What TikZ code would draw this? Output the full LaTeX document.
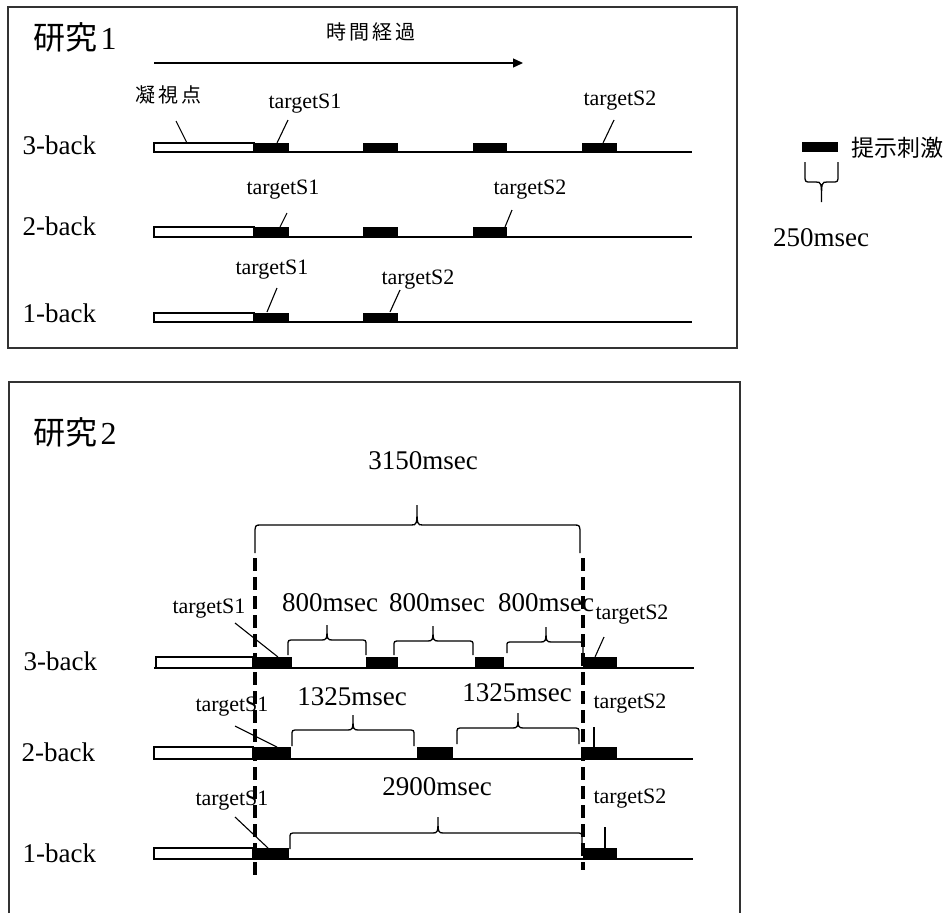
\documentclass[tikz,border=0pt]{standalone}
\usepackage{fontspec}
\setmainfont{Liberation Serif}
\newfontfamily\jp{Noto Sans CJK JP}
\usetikzlibrary{arrows.meta}
\newcommand{\tbrace}[6]{%
 \draw ({#1},{#4}) -- ({#1},{#5+0.35*(#4-#5)}) .. controls ({#1},{#5}) .. ({#1+6},{#5})
   -- ({#3-6},{#5}) .. controls ({#3},{#5}) .. ({#3},{#6})
   .. controls ({#3},{#5}) .. ({#3+6},{#5}) -- ({#2-6},{#5})
   .. controls ({#2},{#5}) .. ({#2},{#5+0.35*(#4-#5)}) -- ({#2},{#4});}
\begin{document}
\begin{tikzpicture}[x=1pt,y=-1pt,line width=1.3pt,
 lbl/.style={font=\fontsize{22}{22}\selectfont,inner sep=0pt},
 rowlbl/.style={font=\fontsize{27}{27}\selectfont,inner sep=0pt,anchor=west},
 ms/.style={font=\fontsize{27}{27}\selectfont,inner sep=0pt},
 ttl/.style={font=\fontsize{32}{32}\selectfont,inner sep=0pt,anchor=west},
 jpl/.style={font=\jp\fontsize{20}{20}\selectfont,inner sep=0pt},
 fix/.style={draw=black,fill=white,line width=1.3pt},
 lead/.style={line width=1.1pt},
 vdash/.style={line width=4pt,dash pattern=on 13pt off 6pt},
 frame/.style={line width=1.5pt,draw={rgb,255:red,50;green,50;blue,50}}]
\useasboundingbox (0,0) rectangle (949,913);
\fill[white] (0,0) rectangle (949,913);

% ---------------- Study 1 ----------------
\draw[frame] (8,7) rectangle (737,348);
\node[ttl] (t1) at (33,37) {{\jp 研究}\hspace{3pt}1};
\node[jpl] (time) at (371,32) {時\hspace{3pt}間\hspace{3pt}経\hspace{3pt}過};
\coordinate (a0) at (154,63);
\coordinate (a1) at (523,63);
\draw[-{Triangle[length=10pt,width=9pt]}] (a0) -- (a1);

\node[rowlbl] (r13) at (22,145) {3-back};
\node[rowlbl] (r12) at (22,226) {2-back};
\node[rowlbl] (r11) at (22,313) {1-back};

% 3-back
\draw (154,152) -- (692,152);
\draw[fix] (154,143) rectangle (254,152);
\fill (254,143) rectangle (289,152);
\fill (363,143) rectangle (398,152);
\fill (473,143) rectangle (507,152);
\fill (582,143) rectangle (617,152);
\node[jpl] (fx) at (168,95) {凝\hspace{3pt}視\hspace{3pt}点};
\coordinate (fx1) at (176,121); \coordinate (fx2) at (187,143);
\draw[lead] (fx1) -- (fx2);
\node[lbl] (a31) at (305,104) {targetS1};
\coordinate (a31a) at (288,120); \coordinate (a31b) at (277,143);
\draw[lead] (a31a) -- (a31b);
\node[lbl] (a32) at (620,101) {targetS2};
\coordinate (a32a) at (614,120); \coordinate (a32b) at (603,143);
\draw[lead] (a32a) -- (a32b);

% 2-back
\draw (154,237) -- (692,237);
\draw[fix] (154,227) rectangle (254,237);
\fill (254,227) rectangle (289,237);
\fill (363,227) rectangle (398,237);
\fill (473,227) rectangle (507,237);
\node[lbl] (a21) at (283,190) {targetS1};
\coordinate (a21a) at (287,213); \coordinate (a21b) at (280,227);
\draw[lead] (a21a) -- (a21b);
\node[lbl] (a22) at (530,190) {targetS2};
\coordinate (a22a) at (512,210); \coordinate (a22b) at (505,227);
\draw[lead] (a22a) -- (a22b);

% 1-back
\draw (154,322) -- (692,322);
\draw[fix] (154,313) rectangle (254,322);
\fill (254,313) rectangle (289,322);
\fill (363,313) rectangle (398,322);
\node[lbl] (a11) at (272,270) {targetS1};
\coordinate (a11a) at (277,288); \coordinate (a11b) at (267,312);
\draw[lead] (a11a) -- (a11b);
\node[lbl] (a12) at (418,280) {targetS2};
\coordinate (a12a) at (400,290); \coordinate (a12b) at (390,312);
\draw[lead] (a12a) -- (a12b);

% legend
\fill (802,142) rectangle (838,152);
\node[inner sep=0pt,font=\jp\fontsize{23}{23}\selectfont] (leg) at (897,148) {提示刺激};
\tbrace{805}{838}{821.5}{162}{182}{202}
\node[ms] (l250) at (821,238) {250msec};

% ---------------- Study 2 ----------------
\draw[frame] (9,913) -- (9,382) -- (740,382) -- (740,913);
\node[ttl] (t2) at (33,432) {{\jp 研究}\hspace{3pt}2};
\node[ms] (m3150) at (423,461) {3150msec};
\tbrace{255}{580}{417}{553}{525}{505}

\node[rowlbl] (q13) at (23,661) {3-back};
\node[rowlbl] (q12) at (21,752) {2-back};
\node[rowlbl] (q11) at (22,853) {1-back};

% 3-back
\draw (154,668) -- (694,668);
\draw[fix] (156,657) rectangle (253,668);
\fill (253,657) rectangle (292,668);
\fill (366,657) rectangle (398,668);
\fill (475,657) rectangle (504,668);
\fill (583,657) rectangle (617,668);
\tbrace{288}{366}{327}{655}{640}{625}
\tbrace{394}{473}{433}{655}{641}{626}
\tbrace{507}{583}{546}{653}{642}{627}
\node[ms] (m8a) at (330,603) {800msec};
\node[ms] (m8b) at (437,603) {800msec};
\node[ms] (m8c) at (546,603) {800msec};
\node[lbl] (b31) at (209,609) {targetS1};
\coordinate (b31a) at (235,623); \coordinate (b31b) at (278,657);
\draw[lead] (b31a) -- (b31b);
\node[lbl] (b32) at (632,615) {targetS2};
\coordinate (b32a) at (604,637); \coordinate (b32b) at (595,657);
\draw[lead] (b32a) -- (b32b);

% 2-back
\draw (154,759) -- (693,759);
\draw[fix] (154,747) rectangle (253,759);
\fill (253,747) rectangle (291,759);
\fill (417,747) rectangle (453,759);
\fill (581,747) rectangle (617,759);
\tbrace{292}{414}{353}{746}{730}{715}
\tbrace{457}{579}{518}{744}{728}{713}
\node[ms] (m13a) at (352,697) {1325msec};
\node[ms] (m13b) at (517,693) {1325msec};
\node[lbl] (b21) at (232,707) {targetS1};
\coordinate (b21a) at (235,726); \coordinate (b21b) at (277,747);
\draw[lead] (b21a) -- (b21b);
\node[lbl] (b22) at (630,704) {targetS2};
\coordinate (b22a) at (594,727); \coordinate (b22b) at (594,747);
\draw[lead] (b22a) -- (b22b);

% 1-back
\draw (154,859) -- (693,859);
\draw[fix] (154,848) rectangle (253,859);
\fill (253,848) rectangle (289,859);
\fill (583,848) rectangle (617,859);
\tbrace{290}{582}{438}{849}{833}{817}
\node[ms] (m2900) at (437,787) {2900msec};
\node[lbl] (b11) at (232,801) {targetS1};
\coordinate (b11a) at (235,817); \coordinate (b11b) at (268,848);
\draw[lead] (b11a) -- (b11b);
\node[lbl] (b12) at (630,799) {targetS2};
\coordinate (b12a) at (605,827); \coordinate (b12b) at (605,848);
\draw[lead] (b12a) -- (b12b);

% dashed markers
\coordinate (d1a) at (255,558); \coordinate (d1b) at (255,875);
\coordinate (d2a) at (583,558); \coordinate (d2b) at (583,870);
\draw[vdash] (d1a) -- (d1b);
\draw[vdash] (d2a) -- (d2b);
\end{tikzpicture}
\end{document}
